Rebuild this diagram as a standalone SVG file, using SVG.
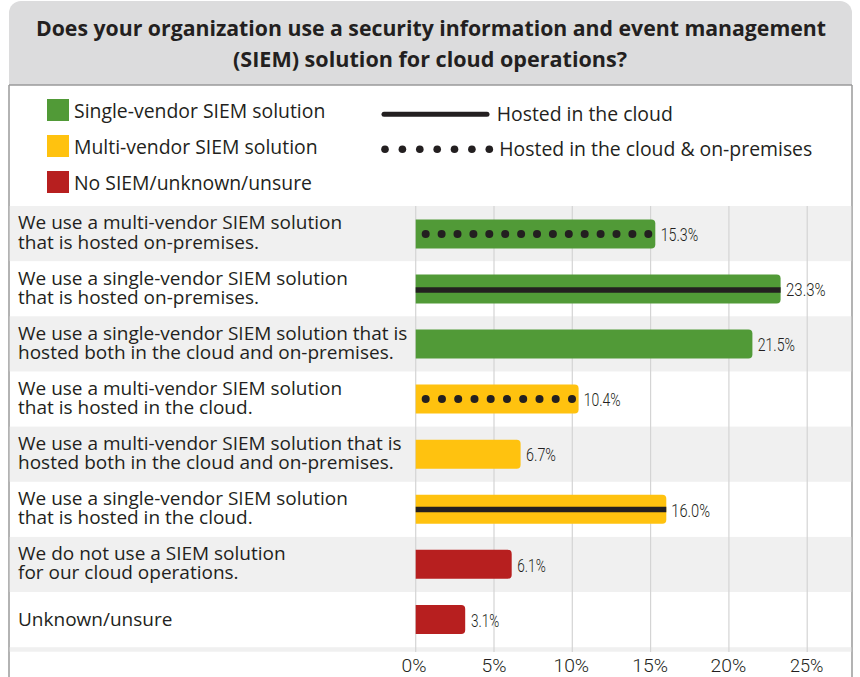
<svg xmlns="http://www.w3.org/2000/svg" width="860" height="677" viewBox="0 0 860 677">
  <style>
    .title { font-family: "Open Sans", "Noto Sans", "Liberation Sans", sans-serif; font-weight: 700; font-size: 21.5px; fill: #231f20; }
    .lbl { font-family: "Open Sans", "Noto Sans", "Liberation Sans", sans-serif; font-size: 19px; fill: #231f20; }
    .leg { font-family: "Open Sans", "Noto Sans", "Liberation Sans", sans-serif; font-size: 19.4px; fill: #231f20; }
    .val { font-family: Roboto, "Liberation Sans", sans-serif; font-weight: 300; font-size: 18px; fill: #231f20; }
    .axis { font-family: Roboto, "Liberation Sans", sans-serif; font-weight: 300; font-size: 19px; fill: #231f20; text-anchor: middle; }
    .band { fill: #f0f0f0; }
    .grid { stroke: #d4d4d4; stroke-width: 1.2; }
    .green { fill: #519a37; }
    .yellow { fill: #ffc20f; }
    .red { fill: #b71f1f; }
    .solid { stroke: #231f20; stroke-width: 5.5; }
    .dot { fill: #231f20; }
    .frame { stroke: #9a9a9a; stroke-width: 1.5; fill: none; }
  </style>
  <defs>
    <circle id="d" r="4" class="dot"/>
    <circle id="ld" r="3.8" class="dot"/>
  </defs>

  <!-- page -->
  <rect x="0" y="0" width="860" height="677" fill="#ffffff"/>

  <!-- title panel -->
  <g id="title">
    <path d="M9 85 V13 A12 12 0 0 1 21 1 H840 A12 12 0 0 1 852 13 V85 Z" fill="#dcdcdd"/>
    <text class="title" x="431" y="36" text-anchor="middle" textLength="790" lengthAdjust="spacingAndGlyphs">Does your organization use a security information and event management</text>
    <text class="title" x="430" y="67" text-anchor="middle" textLength="394" lengthAdjust="spacingAndGlyphs">(SIEM) solution for cloud operations?</text>
  </g>

  <!-- frame -->
  <g id="frame">
    <line class="frame" x1="9" y1="85" x2="852" y2="85"/>
    <line class="frame" x1="9" y1="85" x2="9" y2="677"/>
    <line class="frame" x1="852" y1="85" x2="852" y2="677"/>
  </g>

  <!-- legend -->
  <g id="legend">
    <rect class="green" x="47" y="99" width="22" height="22"/>
    <text class="leg" x="74" y="117.7">Single-vendor SIEM solution</text>
    <rect class="yellow" x="47" y="135" width="22" height="22"/>
    <text class="leg" x="74" y="154">Multi-vendor SIEM solution</text>
    <rect class="red" x="47" y="171" width="22" height="22"/>
    <text class="leg" x="74" y="190">No SIEM/unknown/unsure</text>

    <line x1="384" y1="114.3" x2="487" y2="114.3" stroke="#231f20" stroke-width="5" stroke-linecap="round"/>
    <text class="leg" x="496.7" y="120.7">Hosted in the cloud</text>
    <g transform="translate(0 149.3)">
      <use href="#ld" x="385"/>
      <use href="#ld" x="402.4"/>
      <use href="#ld" x="419.8"/>
      <use href="#ld" x="437.2"/>
      <use href="#ld" x="454.5"/>
      <use href="#ld" x="471.9"/>
      <use href="#ld" x="489.3"/>
    </g>
    <text class="leg" x="499.3" y="156">Hosted in the cloud &amp; on-premises</text>
  </g>

  <!-- row bands -->
  <g id="bands">
    <rect class="band" x="9.75" y="206" width="841.5" height="55.15"/>
    <rect class="band" x="9.75" y="316.3" width="841.5" height="55.15"/>
    <rect class="band" x="9.75" y="426.6" width="841.5" height="55.15"/>
    <rect class="band" x="9.75" y="536.9" width="841.5" height="55.15"/>
    <rect class="band" x="9.75" y="647.2" width="841.5" height="4.5"/>
  </g>

  <!-- value axis grid -->
  <g id="grid">
    <line class="grid" x1="415.7" y1="206" x2="415.7" y2="652"/>
    <line class="grid" x1="494" y1="206" x2="494" y2="652"/>
    <line class="grid" x1="572.3" y1="206" x2="572.3" y2="652"/>
    <line class="grid" x1="650.6" y1="206" x2="650.6" y2="652"/>
    <line class="grid" x1="728.9" y1="206" x2="728.9" y2="652"/>
    <line class="grid" x1="807.2" y1="206" x2="807.2" y2="652"/>
    <text class="axis" x="414" y="671.7" textLength="25" lengthAdjust="spacingAndGlyphs">0%</text>
    <text class="axis" x="494" y="671.7" textLength="25" lengthAdjust="spacingAndGlyphs">5%</text>
    <text class="axis" x="571.3" y="671.7" textLength="35.7" lengthAdjust="spacingAndGlyphs">10%</text>
    <text class="axis" x="650.1" y="671.7" textLength="35.7" lengthAdjust="spacingAndGlyphs">15%</text>
    <text class="axis" x="728.4" y="671.7" textLength="35.7" lengthAdjust="spacingAndGlyphs">20%</text>
    <text class="axis" x="806.7" y="671.7" textLength="33.5" lengthAdjust="spacingAndGlyphs">25%</text>
  </g>

  <!-- rows: label, bar, hosting marker, value -->
  <g id="row1">
    <text class="lbl" x="18" y="229.4">We use a multi-vendor SIEM solution</text>
    <text class="lbl" x="18" y="248.9">that is hosted on-premises.</text>
    <path class="green" d="M415.7 219.4 H651.3 A4 4 0 0 1 655.3 223.4 V244.4 A4 4 0 0 1 651.3 248.4 H415.7 Z"/>
    <g transform="translate(0 233.9)">
      <use href="#d" x="425.7"/>
      <use href="#d" x="441.6"/>
      <use href="#d" x="457.5"/>
      <use href="#d" x="473.4"/>
      <use href="#d" x="489.3"/>
      <use href="#d" x="505.2"/>
      <use href="#d" x="521.1"/>
      <use href="#d" x="537"/>
      <use href="#d" x="552.9"/>
      <use href="#d" x="568.8"/>
      <use href="#d" x="584.7"/>
      <use href="#d" x="600.6"/>
      <use href="#d" x="616.5"/>
      <use href="#d" x="632.4"/>
      <use href="#d" x="648.3"/>
    </g>
    <text class="val" x="660.7" y="241.1" textLength="37.6" lengthAdjust="spacingAndGlyphs">15.3%</text>
  </g>

  <g id="row2">
    <text class="lbl" x="18" y="284.5">We use a single-vendor SIEM solution</text>
    <text class="lbl" x="18" y="304">that is hosted on-premises.</text>
    <path class="green" d="M415.7 274.5 H776.6 A4 4 0 0 1 780.6 278.5 V299.5 A4 4 0 0 1 776.6 303.5 H415.7 Z"/>
    <line class="solid" x1="415.7" y1="290" x2="780.6" y2="290"/>
    <text class="val" x="786" y="296.2" textLength="39.7" lengthAdjust="spacingAndGlyphs">23.3%</text>
  </g>

  <g id="row3">
    <text class="lbl" x="18" y="339.5">We use a single-vendor SIEM solution that is</text>
    <text class="lbl" x="18" y="359">hosted both in the cloud and on-premises.</text>
    <path class="green" d="M415.7 329.5 H748.4 A4 4 0 0 1 752.4 333.5 V354.5 A4 4 0 0 1 748.4 358.5 H415.7 Z"/>
    <text class="val" x="757.7" y="351.2" textLength="37.3" lengthAdjust="spacingAndGlyphs">21.5%</text>
  </g>

  <g id="row4">
    <text class="lbl" x="18" y="394.6">We use a multi-vendor SIEM solution</text>
    <text class="lbl" x="18" y="414.1">that is hosted in the cloud.</text>
    <path class="yellow" d="M415.7 384.6 H574.6 A4 4 0 0 1 578.6 388.6 V409.6 A4 4 0 0 1 574.6 413.6 H415.7 Z"/>
    <g transform="translate(0 399.1)">
      <use href="#d" x="425.7"/>
      <use href="#d" x="441.96"/>
      <use href="#d" x="458.2"/>
      <use href="#d" x="474.5"/>
      <use href="#d" x="490.7"/>
      <use href="#d" x="507"/>
      <use href="#d" x="523.2"/>
      <use href="#d" x="539.5"/>
      <use href="#d" x="555.7"/>
      <use href="#d" x="572"/>
    </g>
    <text class="val" x="583.7" y="406.3" textLength="37" lengthAdjust="spacingAndGlyphs">10.4%</text>
  </g>

  <g id="row5">
    <text class="lbl" x="18" y="449.7">We use a multi-vendor SIEM solution that is</text>
    <text class="lbl" x="18" y="469.2">hosted both in the cloud and on-premises.</text>
    <path class="yellow" d="M415.7 439.7 H516.6 A4 4 0 0 1 520.6 443.7 V464.7 A4 4 0 0 1 516.6 468.7 H415.7 Z"/>
    <text class="val" x="526" y="461.4" textLength="30" lengthAdjust="spacingAndGlyphs">6.7%</text>
  </g>

  <g id="row6">
    <text class="lbl" x="18" y="504.8">We use a single-vendor SIEM solution</text>
    <text class="lbl" x="18" y="524.3">that is hosted in the cloud.</text>
    <path class="yellow" d="M415.7 494.8 H662.3 A4 4 0 0 1 666.3 498.8 V519.8 A4 4 0 0 1 662.3 523.8 H415.7 Z"/>
    <line class="solid" x1="415.7" y1="509.5" x2="666.3" y2="509.5"/>
    <text class="val" x="671.3" y="516.5" textLength="38.7" lengthAdjust="spacingAndGlyphs">16.0%</text>
  </g>

  <g id="row7">
    <text class="lbl" x="18" y="559.8">We do not use a SIEM solution</text>
    <text class="lbl" x="18" y="579.3">for our cloud operations.</text>
    <path class="red" d="M415.7 549.8 H507.7 A4 4 0 0 1 511.7 553.8 V574.8 A4 4 0 0 1 507.7 578.8 H415.7 Z"/>
    <text class="val" x="517.3" y="571.5" textLength="28.4" lengthAdjust="spacingAndGlyphs">6.1%</text>
  </g>

  <g id="row8">
    <text class="lbl" x="18" y="626.4">Unknown/unsure</text>
    <path class="red" d="M415.7 604.9 H461.2 A4 4 0 0 1 465.2 608.9 V629.9 A4 4 0 0 1 461.2 633.9 H415.7 Z"/>
    <text class="val" x="471" y="626.6" textLength="28.3" lengthAdjust="spacingAndGlyphs">3.1%</text>
  </g>
</svg>
